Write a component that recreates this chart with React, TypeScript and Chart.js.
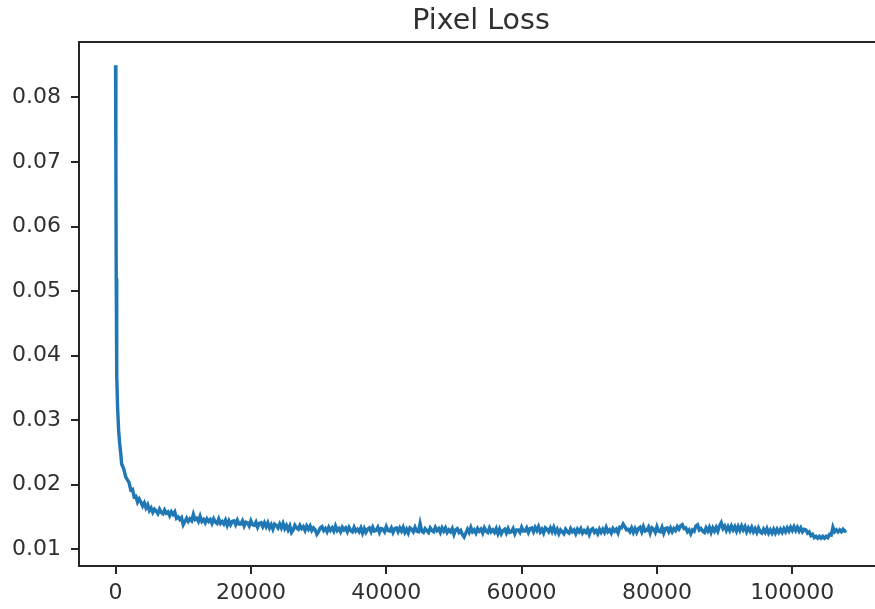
import { useEffect, useRef } from "react";
import { Chart, registerables } from "chart.js";

Chart.register(...registerables);

const chartTitle = "Pixel Loss";

// First iterations, logged densely while the loss collapses.
const warmupIters = [0, 50, 100, 150, 200, 300, 450, 600, 800, 900, 1200, 1500];
const warmupLoss = [0.085, 0.07, 0.052, 0.042, 0.037, 0.032, 0.0285, 0.0265, 0.0245, 0.0232, 0.0225, 0.0212];

// Afterwards the loss was logged every 250 iterations, starting at 2000
// (one row = 5000 iterations).
const logStart = 2000;
const logEvery = 250;
const loggedLoss = [
  0.0203, 0.0192, 0.0193, 0.0181, 0.0182, 0.0173, 0.0178, 0.0173, 0.0167, 0.0172, 0.0164, 0.0169, 0.0160, 0.0164, 0.0157, 0.0162, 0.0159, 0.0155, 0.0162, 0.0157,
  0.0155, 0.0161, 0.0156, 0.0158, 0.0152, 0.0158, 0.0154, 0.0158, 0.0148, 0.0150, 0.0146, 0.0149, 0.0138, 0.0143, 0.0148, 0.0143, 0.0147, 0.0144, 0.0154, 0.0146,
  0.0148, 0.0143, 0.0151, 0.0143, 0.0146, 0.0141, 0.0147, 0.0143, 0.0146, 0.0140, 0.0147, 0.0142, 0.0140, 0.0147, 0.0140, 0.0143, 0.0139, 0.0145, 0.0137, 0.0144,
  0.0138, 0.0143, 0.0144, 0.0138, 0.0145, 0.0139, 0.0139, 0.0144, 0.0136, 0.0142, 0.0141, 0.0136, 0.0144, 0.0138, 0.0137, 0.0142, 0.0134, 0.0140, 0.0141, 0.0135,
  0.0141, 0.0135, 0.0141, 0.0133, 0.0138, 0.0131, 0.0139, 0.0137, 0.0133, 0.0139, 0.0133, 0.0140, 0.0132, 0.0137, 0.0130, 0.0136, 0.0126, 0.0130, 0.0137, 0.0133,
  0.0131, 0.0137, 0.0132, 0.0135, 0.0129, 0.0136, 0.0131, 0.0136, 0.0129, 0.0133, 0.0130, 0.0123, 0.0127, 0.0133, 0.0135, 0.0129, 0.0132, 0.0127, 0.0134, 0.0129,
  0.0133, 0.0128, 0.0136, 0.0129, 0.0132, 0.0127, 0.0134, 0.0130, 0.0133, 0.0127, 0.0134, 0.0129, 0.0127, 0.0134, 0.0128, 0.0131, 0.0127, 0.0133, 0.0125, 0.0132,
  0.0126, 0.0131, 0.0133, 0.0127, 0.0134, 0.0128, 0.0129, 0.0134, 0.0126, 0.0132, 0.0131, 0.0127, 0.0135, 0.0129, 0.0128, 0.0133, 0.0126, 0.0132, 0.0133, 0.0127,
  0.0133, 0.0128, 0.0134, 0.0126, 0.0131, 0.0125, 0.0133, 0.0131, 0.0127, 0.0134, 0.0128, 0.0127, 0.0140, 0.0128, 0.0126, 0.0132, 0.0129, 0.0126, 0.0133, 0.0129,
  0.0127, 0.0134, 0.0129, 0.0132, 0.0126, 0.0133, 0.0128, 0.0133, 0.0126, 0.0130, 0.0127, 0.0132, 0.0123, 0.0130, 0.0132, 0.0126, 0.0129, 0.0123, 0.0119, 0.0125,
  0.0131, 0.0126, 0.0134, 0.0127, 0.0130, 0.0125, 0.0132, 0.0128, 0.0131, 0.0125, 0.0133, 0.0128, 0.0126, 0.0133, 0.0127, 0.0130, 0.0126, 0.0132, 0.0124, 0.0131,
  0.0124, 0.0129, 0.0131, 0.0125, 0.0132, 0.0126, 0.0127, 0.0132, 0.0124, 0.0130, 0.0130, 0.0126, 0.0134, 0.0128, 0.0128, 0.0133, 0.0126, 0.0132, 0.0133, 0.0127,
  0.0134, 0.0129, 0.0135, 0.0127, 0.0131, 0.0125, 0.0133, 0.0131, 0.0127, 0.0133, 0.0127, 0.0134, 0.0126, 0.0131, 0.0124, 0.0130, 0.0127, 0.0124, 0.0131, 0.0127,
  0.0125, 0.0132, 0.0127, 0.0130, 0.0124, 0.0131, 0.0127, 0.0132, 0.0125, 0.0129, 0.0126, 0.0131, 0.0123, 0.0130, 0.0132, 0.0126, 0.0129, 0.0124, 0.0131, 0.0126,
  0.0131, 0.0126, 0.0134, 0.0127, 0.0130, 0.0125, 0.0132, 0.0128, 0.0131, 0.0125, 0.0134, 0.0133, 0.0139, 0.0135, 0.0130, 0.0131, 0.0127, 0.0133, 0.0126, 0.0132,
  0.0126, 0.0132, 0.0134, 0.0127, 0.0135, 0.0128, 0.0129, 0.0134, 0.0125, 0.0133, 0.0131, 0.0126, 0.0135, 0.0128, 0.0127, 0.0134, 0.0125, 0.0132, 0.0133, 0.0127,
  0.0133, 0.0127, 0.0132, 0.0129, 0.0135, 0.0131, 0.0136, 0.0138, 0.0132, 0.0133, 0.0127, 0.0130, 0.0124, 0.0130, 0.0128, 0.0136, 0.0138, 0.0130, 0.0132, 0.0128,
  0.0126, 0.0133, 0.0128, 0.0134, 0.0126, 0.0133, 0.0128, 0.0134, 0.0128, 0.0136, 0.0141, 0.0132, 0.0136, 0.0129, 0.0135, 0.0129, 0.0136, 0.0130, 0.0135, 0.0128,
  0.0135, 0.0129, 0.0136, 0.0130, 0.0135, 0.0127, 0.0133, 0.0128, 0.0134, 0.0127, 0.0132, 0.0126, 0.0133, 0.0127, 0.0125, 0.0131, 0.0126, 0.0132, 0.0125, 0.0130,
  0.0125, 0.0131, 0.0125, 0.0131, 0.0126, 0.0131, 0.0126, 0.0132, 0.0127, 0.0133, 0.0128, 0.0134, 0.0129, 0.0135, 0.0129, 0.0134, 0.0128, 0.0133, 0.0127, 0.0131,
  0.0130, 0.0125, 0.0127, 0.0121, 0.0123, 0.0118, 0.0120, 0.0117, 0.0120, 0.0117, 0.0120, 0.0117, 0.0120, 0.0118, 0.0123, 0.0122, 0.0134, 0.0127, 0.0130, 0.0127,
  0.0130, 0.0127, 0.0131, 0.0128, 0.0129,
];

const xTicks = [0, 20000, 40000, 60000, 80000, 100000];
const yTicks = [0.01, 0.02, 0.03, 0.04, 0.05, 0.06, 0.07, 0.08];
const xMin = -5400;
const xMax = 113400;
const yMin = 0.0074;
const yMax = 0.0886;

const ink = "#262626";
const textInk = "#303030";
const lineBlue = "#1f77b4";
const fontFamily = '"DejaVu Sans", sans-serif';

const points = [
  ...warmupIters.map((x, i) => ({ x, y: warmupLoss[i] })),
  ...loggedLoss.map((y, i) => ({ x: logStart + i * logEvery, y })),
];

// Draws the full axes box and the title above it.
const framePlugin = {
  id: "frameAndTitle",
  afterDraw(chart: any) {
    const { ctx, chartArea } = chart;
    const { left, right, top, bottom } = chartArea;
    ctx.save();
    ctx.strokeStyle = ink;
    ctx.lineWidth = 2;
    ctx.strokeRect(left, top, right - left, bottom - top);
    ctx.fillStyle = textInk;
    ctx.font = `28.5px ${fontFamily}`;
    ctx.textAlign = "center";
    ctx.textBaseline = "alphabetic";
    ctx.fillText(chartTitle, (left + right) / 2, 29);
    ctx.restore();
  },
};

export default function App() {
  const canvasRef = useRef<HTMLCanvasElement | null>(null);

  useEffect(() => {
    const canvas = canvasRef.current;
    if (!canvas) return;
    const tickFont = { family: fontFamily, size: 22 };
    const chart = new Chart(canvas, {
      type: "line",
      data: {
        datasets: [
          {
            data: points,
            borderColor: lineBlue,
            borderWidth: 3.4,
            pointRadius: 0,
            tension: 0,
            fill: false,
          },
        ],
      },
      options: {
        animation: false,
        responsive: false,
        events: [],
        layout: { padding: { top: 42, left: 0, right: 0, bottom: 0 } },
        plugins: {
          legend: { display: false },
          title: { display: false },
          tooltip: { enabled: false },
        },
        scales: {
          x: {
            type: "linear",
            min: xMin,
            max: xMax,
            afterBuildTicks: (scale: any) => {
              scale.ticks = xTicks.map((value) => ({ value }));
            },
            afterFit: (scale: any) => {
              scale.height = 43;
            },
            border: { display: false },
            grid: {
              drawOnChartArea: false,
              drawTicks: true,
              tickLength: 8,
              color: ink,
              lineWidth: 2,
            },
            ticks: {
              color: textInk,
              font: tickFont,
              padding: 6,
              maxRotation: 0,
              autoSkip: false,
              callback: (value: any) => String(value),
            },
          },
          y: {
            type: "linear",
            min: yMin,
            max: yMax,
            afterBuildTicks: (scale: any) => {
              scale.ticks = yTicks.map((value) => ({ value }));
            },
            afterFit: (scale: any) => {
              scale.width = 79;
            },
            border: { display: false },
            grid: {
              drawOnChartArea: false,
              drawTicks: true,
              tickLength: 8,
              color: ink,
              lineWidth: 2,
            },
            ticks: {
              color: textInk,
              font: tickFont,
              padding: 10,
              autoSkip: false,
              callback: (value: any) => Number(value).toFixed(2),
            },
          },
        },
      },
      plugins: [framePlugin],
    });
    return () => chart.destroy();
  }, []);

  return (
    <div
      style={{
        position: "fixed",
        left: 0,
        top: 0,
        width: 875,
        height: 609,
        overflow: "hidden",
        background: "#ffffff",
      }}
    >
      <canvas ref={canvasRef} width={883} height={609} style={{ width: 883, height: 609 }} />
    </div>
  );
}
